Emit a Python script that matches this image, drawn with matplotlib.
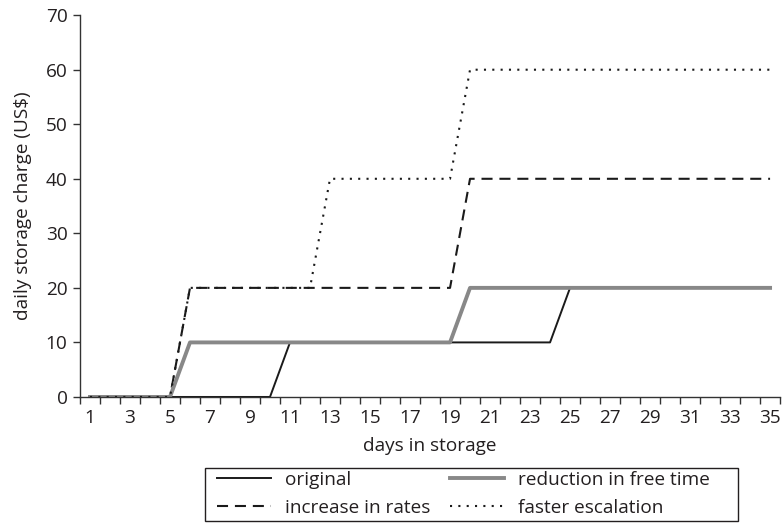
import matplotlib
matplotlib.use("Agg")
import matplotlib.pyplot as plt
from matplotlib.patches import Rectangle
import numpy as np

days = list(range(1, 36))
original = [0]*10 + [10]*14 + [20]*11
reduction = [0]*5 + [10]*14 + [20]*16
increase = [0]*5 + [20]*14 + [40]*16
faster = [0]*5 + [20]*7 + [40]*7 + [60]*16
xtick_labels = list(range(1, 36, 2))
yticks = list(range(0, 71, 10))

plt.rcParams['font.family'] = ['Open Sans', 'DejaVu Sans']
txt = '#231f20'
fs = 13.7

W, H = 784, 523
fig = plt.figure(figsize=(W/100, H/100), dpi=100)
ax = fig.add_axes([0.102, 0.241, 0.893, 0.730])

ax.plot(days, original, color='#1a1a1a', lw=1.4, label='original')
ax.plot(days, increase, color='#1a1a1a', lw=1.5, ls=(0, (5.3, 3.3)), label='increase in rates')
ax.plot(days, reduction, color='#888888', lw=2.8, label='reduction in free time')
ax.plot(days, faster, color='#1a1a1a', lw=1.5, ls=(0, (1, 3)), label='faster escalation')

ax.set_xlim(0.5, 35.5)
ax.set_ylim(0, 70)
ax.set_xticks(xtick_labels)
ax.set_xticklabels([str(v) for v in xtick_labels])
ax.set_xticks(np.arange(0.5, 36, 1), minor=True)
ax.tick_params(axis='x', which='major', length=0, pad=9, labelsize=fs, colors=txt)
ax.tick_params(axis='x', which='minor', length=5, width=1, color='#333333', direction='out')
ax.set_yticks(yticks)
ax.tick_params(axis='y', length=5, width=1, color='#333333', labelsize=fs, labelcolor=txt, pad=4)
for s in ['top', 'right']:
    ax.spines[s].set_visible(False)
for s in ['left', 'bottom']:
    ax.spines[s].set_color('#333333')
    ax.spines[s].set_linewidth(1)
ax.set_xlabel('days in storage', fontsize=fs, color=txt, labelpad=7)
ax.set_ylabel(r'daily storage charge (US\$)', fontsize=fs, color=txt, labelpad=10)

leg = fig.legend(loc='upper left', bbox_to_anchor=(217/W, 1 - 471/H), ncol=2, frameon=False,
                 fontsize=fs, handlelength=2.84, columnspacing=1.0, handletextpad=0.74,
                 labelspacing=0.52, borderpad=0, borderaxespad=0)
for t in leg.get_texts():
    t.set_color(txt)

fig.patches.append(Rectangle((205/W, 1 - 521/H), 533/W, 53/H, transform=fig.transFigure,
                             fill=False, edgecolor=txt, lw=1))

fig.savefig('out.png', dpi=100)
